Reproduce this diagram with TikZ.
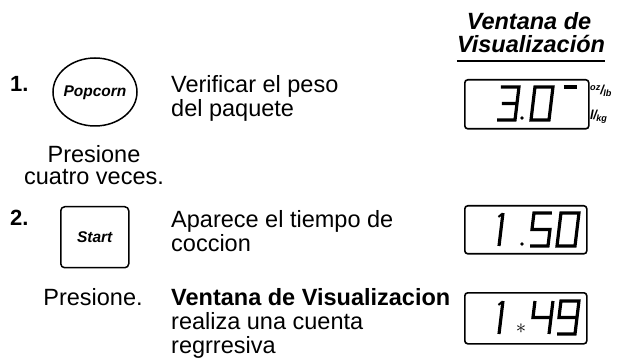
\documentclass[tikz,border=0pt]{standalone}
\usepackage{fontspec}
\setmainfont{Liberation Sans}
\begin{document}
\begin{tikzpicture}[x=1pt,y=-1pt,
  body/.style={font=\fontsize{23.5}{24}\selectfont, inner sep=0pt, align=left},
  bodyc/.style={font=\fontsize{23.5}{22}\selectfont, inner sep=0pt, align=center},
  num/.style={font=\fontsize{22}{23}\selectfont\bfseries, inner sep=0pt},
  head/.style={font=\fontsize{23.5}{24}\selectfont\bfseries\itshape, inner sep=0pt},
  keylbl/.style={font=\fontsize{15.5}{16}\selectfont\bfseries\itshape, inner sep=0pt},
  lcdbox/.style={draw, line width=1.6pt, rounded corners=3pt},
  seg/.style={line width=3.2pt, line cap=butt, line join=miter},
  unit/.style={font=\fontsize{13}{13}\selectfont\bfseries\itshape, inner sep=0pt}]
\useasboundingbox (0,0) rectangle (626,363);
% header
\node[head, anchor=base] (h1) at (529,30) {Ventana de};
\node[head, anchor=base] (h2) at (531,53) {Visualización};
\draw[line width=2pt] ([yshift=-8pt]h2.base west) -- ([yshift=-8pt]h2.base east);
% step 1
\node[num, anchor=base west] (n1) at (10,92) {1.};
\draw[line width=1.5pt] (95,92) ellipse [x radius=42, y radius=34];
\node[keylbl] (pop) at (95,93) {Popcorn};
\node[body, anchor=north west] (t1) at (171,75.5) {Verificar el peso\\del paquete};
\node[bodyc, anchor=north] (p1) at (94,145) {Presione\\cuatro veces.};
% display 1
\node[lcdbox, minimum width=124, minimum height=49, anchor=north west] (d1) at (464,79) {};
\begin{scope}[shift={(497,120)}, xslant=0.12]
 \draw[seg] (0,-33)--(18,-33)--(18,0)--(0,0) (3,-16.5)--(18,-16.5);
\end{scope}
\fill (522,118) circle (1.8);
\begin{scope}[shift={(531,120)}, xslant=0.12]
 \draw[seg] (0,-33) rectangle (18,0);
\end{scope}
\begin{scope}[shift={(558,120)}, xslant=0.12]
 \draw[seg] (2,-33)--(15,-33);
\end{scope}
\node[unit, anchor=west] (u1) at (590,91) {\textsuperscript{oz}\kern-0.5pt/\kern-0.5pt\textsubscript{lb}};
\node[unit, anchor=west] (u2) at (590,117) {l\kern-0.5pt/\kern-0.5pt\textsubscript{kg}};
% step 2
\node[num, anchor=base west] (n2) at (10,226) {2.};
\node[draw, line width=1.5pt, rounded corners=4pt, minimum width=68, minimum height=61, anchor=north west] (sk) at (60,206) {};
\node[keylbl] (st) at (sk.center) {Start};
\node[body, anchor=north west] (t2) at (171,210.5) {Aparece el tiempo de\\coccion};
\node[bodyc, anchor=north] (p2) at (93,288.5) {Presione.};
\node[body, anchor=north west] (t3) at (171,288) {\textbf{Ventana de Visualizacion}\\realiza una cuenta\\regrresiva};
% display 2
\node[lcdbox, minimum width=122, minimum height=48, anchor=north west] (d2) at (464,205) {};
\begin{scope}[shift={(499,246)}, xslant=0.12]
 \draw[seg] (0,-33)--(0,0);
 \draw[line width=2pt] (-4,-29)--(-1,-32);
\end{scope}
\fill (522,244) circle (1.8);
\begin{scope}[shift={(530,246)}, xslant=0.12]
 \draw[seg] (18,-33)--(0,-33)--(0,-16.5)--(18,-16.5)--(18,0)--(0,0);
\end{scope}
\begin{scope}[shift={(557,246)}, xslant=0.12]
 \draw[seg] (0,-33) rectangle (18,0);
\end{scope}
% display 3
\node[lcdbox, minimum width=122, minimum height=51, anchor=north west] (d3) at (464,292) {};
\begin{scope}[shift={(499,334)}, xslant=0.12]
 \draw[seg] (0,-33)--(0,0);
 \draw[line width=2pt] (-4,-29)--(-1,-32);
\end{scope}
\node[font=\fontsize{22}{22}\selectfont, inner sep=0pt] (star) at (521,329) {$\ast$};
\begin{scope}[shift={(531,334)}, xslant=0.12]
 \draw[seg] (0,-33)--(0,-16.5)--(18,-16.5) (18,-33)--(18,0);
\end{scope}
\begin{scope}[shift={(557,334)}, xslant=0.12]
 \draw[seg] (18,-16.5)--(0,-16.5)--(0,-33)--(18,-33)--(18,0)--(0,0);
\end{scope}
\end{tikzpicture}
\end{document}
